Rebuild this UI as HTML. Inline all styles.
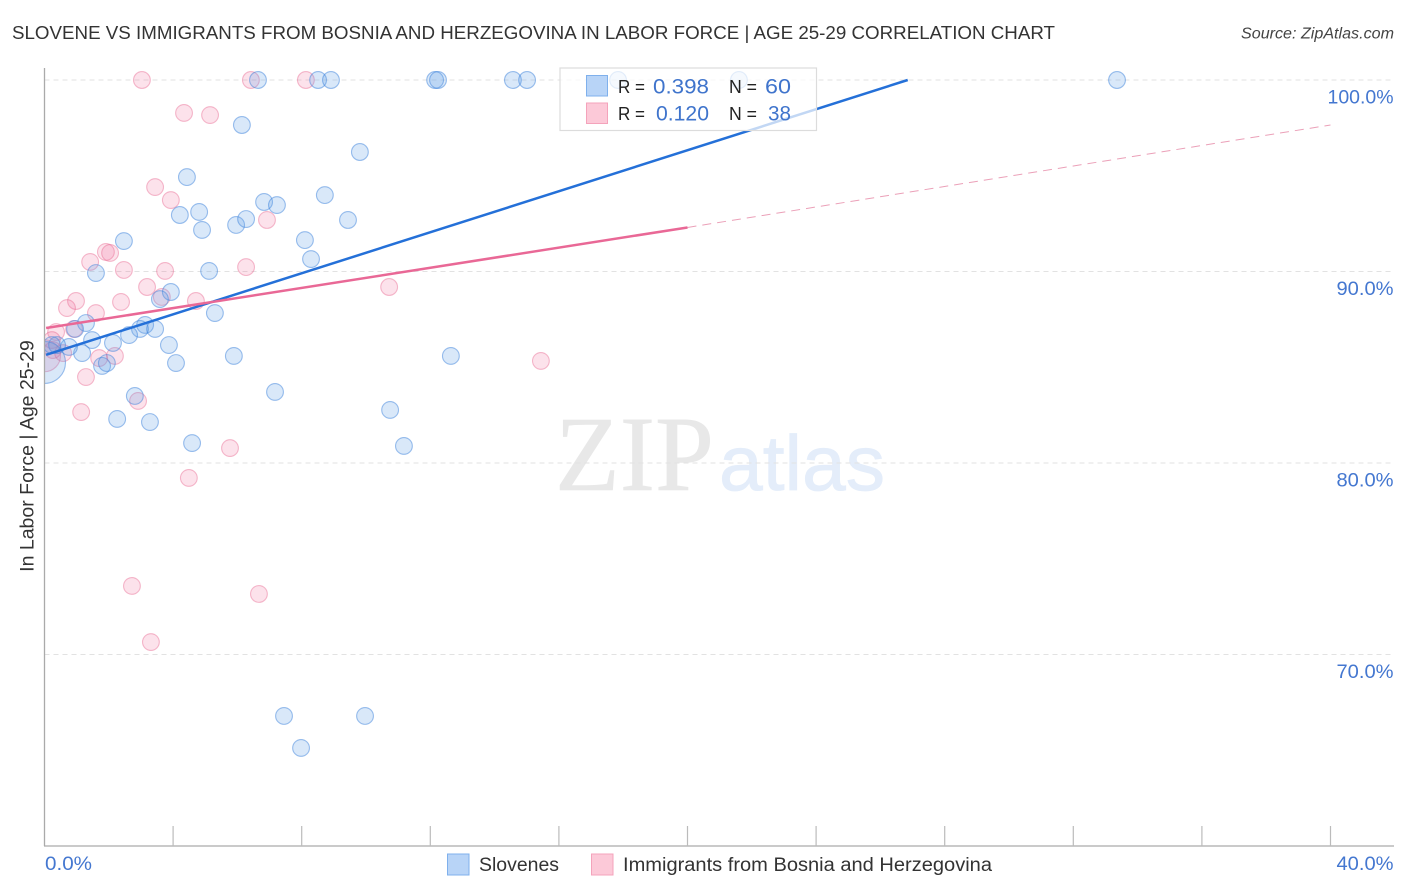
<!DOCTYPE html>
<html lang="en">
<head>
<meta charset="utf-8">
<title>Slovene vs Immigrants from Bosnia and Herzegovina correlation chart</title>
<style>
html,body{margin:0;padding:0;background:#fff;}
body{width:1406px;height:892px;overflow:hidden;}
svg{display:block;font-family:"Liberation Sans",sans-serif;}
</style>
</head>
<body>
<svg id="chart" xmlns="http://www.w3.org/2000/svg" width="1406" height="892" viewBox="0 0 1406 892">
  <defs>
    <clipPath id="plot-clip"><rect x="44.5" y="60" width="1350" height="786"/></clipPath>
  </defs>
  <text x="12" y="39" font-size="18.5" fill="#333" textLength="1043" lengthAdjust="spacingAndGlyphs">SLOVENE VS IMMIGRANTS FROM BOSNIA AND HERZEGOVINA IN LABOR FORCE | AGE 25-29 CORRELATION CHART</text>
  <text x="1241" y="38.5" font-size="15.5" font-style="italic" fill="#444" textLength="153" lengthAdjust="spacingAndGlyphs">Source: ZipAtlas.com</text>

  <g>
    <text x="555" y="490" font-family="'Liberation Serif',serif" font-size="107" fill="#e8e8e8" stroke="#e8e8e8" stroke-width="0.6" textLength="159" lengthAdjust="spacingAndGlyphs">ZIP</text>
    <text x="719" y="490" font-family="'Liberation Sans',sans-serif" font-size="78" fill="#e4edfa" stroke="#e4edfa" stroke-width="0.8" textLength="166" lengthAdjust="spacingAndGlyphs">atlas</text>
  </g>

  <g id="grid"></g>
  <g id="pink-points" clip-path="url(#plot-clip)"></g>
  <g id="blue-points" clip-path="url(#plot-clip)"></g>
  <g id="trend-lines"></g>
  <g id="axes"></g>
  <g id="tick-labels"></g>

  <text transform="translate(33.5,456) rotate(-90)" font-size="19.5" fill="#333" text-anchor="middle">In Labor Force | Age 25-29</text>

  <g>
    <rect x="560" y="68" width="256.5" height="62.5" fill="#fff" fill-opacity="0.72" stroke="#dcdcdc" stroke-width="1.2"/>
    <rect x="586.5" y="75.5" width="21" height="20.5" fill="#b8d4f7" stroke="#7fb0ec" stroke-width="1"/>
    <rect x="586.5" y="103" width="21" height="20.5" fill="#fcc9d8" stroke="#f4a3bb" stroke-width="1"/>
    <text x="618" y="93" font-size="18.5" fill="#222" textLength="27" lengthAdjust="spacingAndGlyphs">R =</text>
    <text x="653" y="93.5" font-size="21" fill="#3f74cc" textLength="56" lengthAdjust="spacingAndGlyphs">0.398</text>
    <text x="729" y="93" font-size="18.5" fill="#222" textLength="28" lengthAdjust="spacingAndGlyphs">N =</text>
    <text x="765" y="93.5" font-size="21" fill="#3f74cc" textLength="26" lengthAdjust="spacingAndGlyphs">60</text>
    <text x="618" y="120" font-size="18.5" fill="#222" textLength="27" lengthAdjust="spacingAndGlyphs">R =</text>
    <text x="656" y="120.5" font-size="21" fill="#3f74cc" textLength="53" lengthAdjust="spacingAndGlyphs">0.120</text>
    <text x="729" y="120" font-size="18.5" fill="#222" textLength="28" lengthAdjust="spacingAndGlyphs">N =</text>
    <text x="768" y="120.5" font-size="21" fill="#3f74cc" textLength="23" lengthAdjust="spacingAndGlyphs">38</text>
  </g>

  <g>
    <rect x="447.5" y="854" width="21.5" height="21" fill="#b8d4f7" stroke="#7fb0ec" stroke-width="1"/>
    <text x="479" y="871" font-size="19" fill="#333" textLength="80" lengthAdjust="spacingAndGlyphs">Slovenes</text>
    <rect x="591.5" y="854" width="21.5" height="21" fill="#fcc9d8" stroke="#f4a3bb" stroke-width="1"/>
    <text x="623" y="871" font-size="19" fill="#333" textLength="369" lengthAdjust="spacingAndGlyphs">Immigrants from Bosnia and Herzegovina</text>
  </g>
</svg>
<script>
const blueX = [6.64,8.51,8.91,12.15,12.24,14.57,15.01,17.84,21.60,33.36,6.14,9.81,4.43,6.83,7.23,8.72,4.21,4.81,4.90,5.96,6.27,9.44,2.47,8.10,8.29,5.12,1.60,3.93,3.59,5.30,1.29,0.95,3.13,2.97,3.44,2.63,1.48,2.13,3.87,1.17,0.76,0.39,0.23,4.09,5.89,12.64,1.79,1.94,7.17,2.81,10.75,2.26,3.28,4.59,11.18,7.45,9.97,7.98];
const blueY = [100,100,100,100,100,100,100,100,100,100,97.65,96.24,94.93,93.63,93.47,93.99,92.95,93.11,92.17,92.43,92.74,92.69,91.59,91.64,90.65,90.03,89.92,88.93,88.56,87.83,87.31,87.00,87.21,87.00,87.00,86.68,86.42,86.27,86.16,85.74,86.06,86.16,86.16,85.22,85.59,85.59,85.07,85.22,83.71,83.50,82.77,82.30,82.14,81.04,80.89,66.79,66.79,65.12];
const blueLargeX = [0];
const blueLargeY = [85.25];
const pinkX = [3.03,6.42,8.13,4.34,5.15,3.44,3.93,6.92,1.91,2.04,1.42,2.47,3.75,6.27,3.19,10.72,3.65,4.71,0.98,0.70,2.38,1.60,0.92,0.36,0.23,0.26,0.58,1.70,2.19,15.44,1.29,2.91,1.14,5.77,4.49,2.72,6.67,3.31];
const pinkY = [100,100,100,98.28,98.17,94.41,93.73,92.69,91.02,90.97,90.50,90.08,90.03,90.23,89.19,89.19,88.67,88.46,88.46,88.09,88.41,87.83,87.00,86.84,86.42,85.90,85.74,85.48,85.59,85.33,84.49,83.24,82.66,80.78,79.22,73.58,73.16,70.65];
const pinkLargeX = [0];
const pinkLargeY = [85.6];
const blueTrendX = [0.05,26.85];
const blueTrendY = [85.65,100];
const pinkSolidX = [0.05,20];
const pinkSolidY = [87.05,92.3];
const pinkDashX = [20,40];
const pinkDashY = [92.3,97.65];
const yGridValues = [100,90,80,70];
const yTickLabels = ["100.0%","90.0%","80.0%","70.0%"];
const xTickValues = [4,8,12,16,20,24,28,32,36,40];
const xTickLabelValues = [0,40];
const xTickLabels = ["0.0%","40.0%"];

const NS = "http://www.w3.org/2000/svg";
function xScale(v){ return 44.5 + v * 32.15; }
function yScale(v){ return 80 + (100 - v) * 19.15; }
function mk(tag, parent, attrs){
  const el = document.createElementNS(NS, tag);
  for (const k in attrs) el.setAttribute(k, attrs[k]);
  parent.appendChild(el);
  return el;
}
function labelWidth(s){
  if (s.length >= 6) return 66;
  if (s.length === 5) return 57;
  return 47;
}
const gridG = document.getElementById("grid");
const axesG = document.getElementById("axes");
const tickG = document.getElementById("tick-labels");
const pinkG = document.getElementById("pink-points");
const blueG = document.getElementById("blue-points");
const lineG = document.getElementById("trend-lines");

yGridValues.forEach(function(v, i){
  const line = mk("line", gridG, {x1:44.5, x2:1394, y1:yScale(v), y2:yScale(v), stroke:"#e2e2e2", "stroke-width":1, "stroke-dasharray":"5 4"});
  
  
  const w = labelWidth(yTickLabels[i]);
  const label = mk("text", tickG, {x:1393.5 - w, y:yScale(v) + 23.5, "font-size":19.5, fill:"#4477d0", textLength:w, lengthAdjust:"spacingAndGlyphs"});
  label.textContent = yTickLabels[i];
  
  
});

const yAxis = mk("line", axesG, {x1:44.5, x2:44.5, y1:68, y2:846, stroke:"#aaa", "stroke-width":1.3});


const xAxis = mk("line", axesG, {x1:44, x2:1394, y1:846, y2:846, stroke:"#aaa", "stroke-width":1.3});


xTickValues.forEach(function(v){
  const t = mk("line", axesG, {x1:xScale(v), x2:xScale(v), y1:826, y2:846, stroke:"#bbb", "stroke-width":1.2});
  
  
});
xTickLabelValues.forEach(function(v, i){
  const w = labelWidth(xTickLabels[i]);
  const label = mk("text", tickG, {x: i === 0 ? xScale(v) + 0.5 : 1393.5 - w, y:870, "font-size":19.5, fill:"#4477d0", textLength:w, lengthAdjust:"spacingAndGlyphs"});
  label.textContent = xTickLabels[i];
  
  
});

function drawPoint(parent, xv, yv, r, fill, stroke, fo, so){
  const c = mk("circle", parent, {cx:xScale(xv), cy:yScale(yv), r:r, fill:fill, "fill-opacity":fo, stroke:stroke, "stroke-opacity":so, "stroke-width":1.1});
  return c;
}
pinkLargeX.forEach(function(v, i){
  const c = drawPoint(pinkG, v, pinkLargeY[i], 16, "#f0709a", "#e8608a", 0.2, 0.42);
  
  
});
pinkX.forEach(function(v, i){
  const c = drawPoint(pinkG, v, pinkY[i], 8.4, "#f0709a", "#e8608a", 0.2, 0.42);
  
  
});
blueLargeX.forEach(function(v, i){
  const c = drawPoint(blueG, v, blueLargeY[i], 21, "#5f9de8", "#3b82dc", 0.24, 0.5);
  
  
});
blueX.forEach(function(v, i){
  const c = drawPoint(blueG, v, blueY[i], 8.4, "#5f9de8", "#3b82dc", 0.24, 0.5);
  
  
});

const blueLine = mk("line", lineG, {x1:xScale(blueTrendX[0]), y1:yScale(blueTrendY[0]), x2:xScale(blueTrendX[1]), y2:yScale(blueTrendY[1]), stroke:"#2470d8", "stroke-width":2.5});


const pinkSolid = mk("line", lineG, {x1:xScale(pinkSolidX[0]), y1:yScale(pinkSolidY[0]), x2:xScale(pinkSolidX[1]), y2:yScale(pinkSolidY[1]), stroke:"#e96896", "stroke-width":2.5});


const pinkDash = mk("line", lineG, {x1:xScale(pinkDashX[0]), y1:yScale(pinkDashY[0]), x2:xScale(pinkDashX[1]), y2:yScale(pinkDashY[1]), stroke:"#eba0b8", "stroke-width":1, "stroke-dasharray":"9 6"});


</script>
</body>
</html>
